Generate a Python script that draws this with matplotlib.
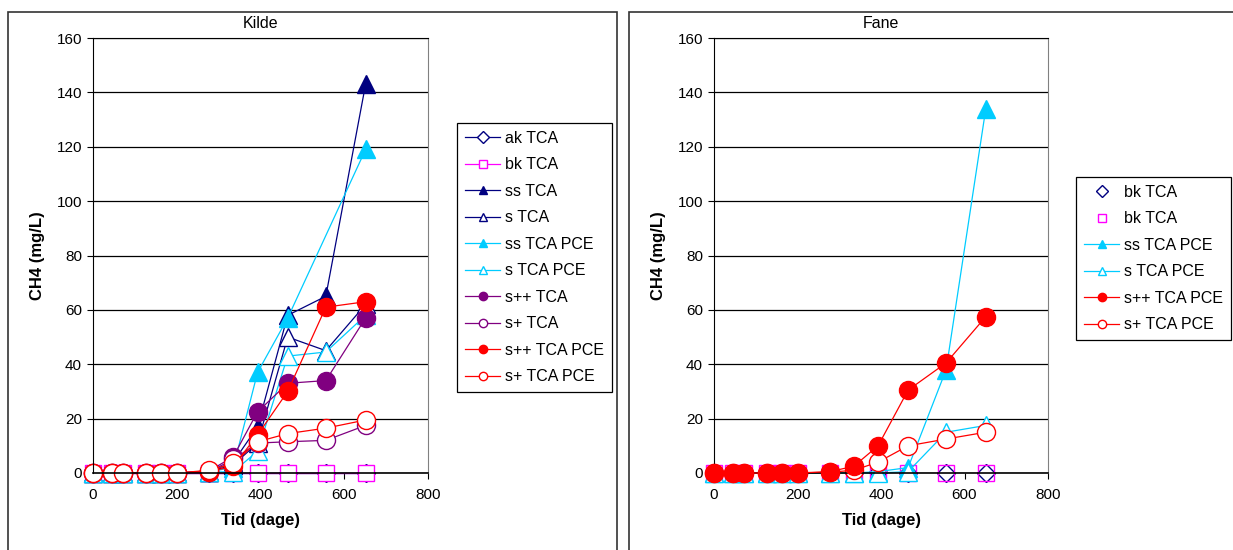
import numpy as np
import matplotlib
matplotlib.use("Agg")
import matplotlib.pyplot as plt
from matplotlib.patches import Rectangle

plt.rcParams["font.family"] = ["Liberation Sans", "DejaVu Sans"]

nan = np.nan
days = [0, 45, 72, 127, 162, 200, 278, 335, 393, 465, 556, 651]

# Kilde
ak_tca = [0, 0, 0, 0, 0, 0, 0, 0, 0, 0, 0, 0]
bk_tca = [0, 0, 0, 0, 0, 0, 0, 0, 0, 0, 0, 0]
ss_tca = [0, 0, 0, 0, 0, 0, 0.5, 4, 17, 58, 65, 143]
s_tca = [0, 0, 0, 0, 0, 0, 0.5, 3, 11, 50, 45, 62]
ss_tca_pce = [0, 0, 0, 0, 0, 0, 0.5, 2, 37, 57, nan, 119]
s_tca_pce = [0, 0, 0, 0, 0, 0, 0.3, 0.5, 8, 43, 44.5, 58]
spp_tca = [0, 0, 0, 0, 0, 0, 0.8, 6, 22.5, 33, 34, 57]
sp_tca = [0, 0, 0, 0, 0, 0, 0.5, 5, 11, 11.5, 12, 17.5]
spp_tca_pce = [0, 0, 0, 0, 0, 0, 0.5, 2.5, 14, 30, 61, 63]
sp_tca_pce = [0, 0, 0, 0, 0, 0, 1, 3.5, 11.5, 14.5, 16.5, 19.5]

# Fane
f_bk_diamond = [0, 0, 0, 0, 0, 0, 0, 0, 0.5, 0, 0, 0]
f_bk_square = [0, 0, 0, 0, 0, 0, 0, 0, 0, 0, 0, 0]
f_ss_tca_pce = [0, 0, 0, 0, 0, 0, 0, 0, 0.5, 2, 38, 134]
f_s_tca_pce = [0, 0, 0, 0, 0, 0, 0, 0, 0, 0.5, 15, 17.5]
f_spp_tca_pce = [0, 0, 0, 0, 0, 0, 0.5, 2.5, 10, 30.5, 40.5, 57.5]
f_sp_tca_pce = [0, 0, 0, 0, 0, 0, 0.3, 1, 4, 10, 12.5, 15]

NAVY = "#000080"
MAG = "#FF00FF"
CYAN = "#00CCFF"
PURP = "#800080"
RED = "#FF0000"

W, H = 1233, 550
fig = plt.figure(figsize=(12.33, 5.5), dpi=100)

# panel frames
fig.patches.append(Rectangle((8 / W, -0.02), (617 - 8) / W, 1.02 - 12 / H,
                             transform=fig.transFigure, fill=False,
                             edgecolor="#333333", linewidth=1.2))
fig.patches.append(Rectangle((629 / W, -0.02), 0.6, 1.02 - 12 / H,
                             transform=fig.transFigure, fill=False,
                             edgecolor="#333333", linewidth=1.2))


def draw(ax, x, y, color, marker, filled, label, ms=13, face=None, line=True, z=2):
    x = np.array(x, float)
    y = np.array(y, float)
    ok = ~np.isnan(y)
    if face is None:
        face = color if filled else "white"
    ax.plot(x[ok], y[ok], color=color, linewidth=0.9 if line else 0,
            linestyle="-" if line else "none",
            marker=marker, markersize=ms, markerfacecolor=face,
            markeredgecolor=color, markeredgewidth=1.0,
            label=label, clip_on=False, zorder=z)


def setup(ax, title):
    ax.set_xlim(0, 800)
    ax.set_ylim(0, 160)
    ax.set_xticks([0, 200, 400, 600, 800])
    ax.set_yticks(range(0, 161, 20))
    ax.yaxis.grid(True, color="black", linewidth=0.9)
    ax.set_axisbelow(True)
    ax.tick_params(labelsize=11, direction="out", length=4, width=0.8)
    ax.tick_params(axis="x", pad=7)
    ax.tick_params(axis="y", pad=4)
    ax.spines["left"].set_color("black")
    ax.spines["bottom"].set_color("black")
    ax.spines["bottom"].set_linewidth(1.2)
    ax.spines["top"].set_color("black")
    ax.spines["right"].set_color("#808080")
    ax.set_title(title, fontsize=11.5, pad=7)
    ax.set_xlabel("Tid (dage)", fontsize=12, fontweight="bold", labelpad=8)
    ax.set_ylabel("CH4 (mg/L)", fontsize=12, fontweight="bold", labelpad=8)


ax1 = fig.add_axes([93 / W, 1 - 473 / H, (428 - 93) / W, (473 - 38) / H])
setup(ax1, "Kilde")
draw(ax1, days, ak_tca, NAVY, "D", False, "ak TCA", ms=9)
draw(ax1, days, bk_tca, MAG, "s", False, "bk TCA", ms=12)
draw(ax1, days, ss_tca, NAVY, "^", True, "ss TCA")
draw(ax1, days, s_tca, NAVY, "^", False, "s TCA")
draw(ax1, days, ss_tca_pce, CYAN, "^", True, "ss TCA PCE")
draw(ax1, days, s_tca_pce, CYAN, "^", False, "s TCA PCE")
draw(ax1, days, spp_tca, PURP, "o", True, "s++ TCA")
draw(ax1, days, sp_tca, PURP, "o", False, "s+ TCA")
draw(ax1, days, spp_tca_pce, RED, "o", True, "s++ TCA PCE")
draw(ax1, days, sp_tca_pce, RED, "o", False, "s+ TCA PCE")

ax2 = fig.add_axes([714 / W, 1 - 473 / H, (1048 - 714) / W, (473 - 38) / H])
setup(ax2, "Fane")
draw(ax2, days, f_bk_diamond, NAVY, "D", False, "bk TCA", ms=9, line=False)
draw(ax2, days, f_bk_square, MAG, "s", False, "bk TCA", ms=12, face="none", line=False)
draw(ax2, days, f_ss_tca_pce, CYAN, "^", True, "ss TCA PCE")
draw(ax2, days, f_s_tca_pce, CYAN, "^", False, "s TCA PCE")
draw(ax2, days, f_spp_tca_pce, RED, "o", True, "s++ TCA PCE", z=3)
draw(ax2, days, f_sp_tca_pce, RED, "o", False, "s+ TCA PCE")


def legend(ax, x, y):
    leg = ax.legend(loc="upper left", bbox_to_anchor=(x / W, 1 - y / H),
                    bbox_transform=fig.transFigure, fontsize=11.5,
                    frameon=True, fancybox=False, edgecolor="black",
                    framealpha=1, borderpad=0.5, labelspacing=0.72,
                    handlelength=2.2, handletextpad=0.3, borderaxespad=0)
    leg.get_frame().set_linewidth(0.9)
    for h in leg.legend_handles:
        h.set_markersize(6)
        h.set_markeredgewidth(1.0)


legend(ax1, 457, 123)
legend(ax2, 1076, 177)

fig.savefig("out.png", dpi=100)
